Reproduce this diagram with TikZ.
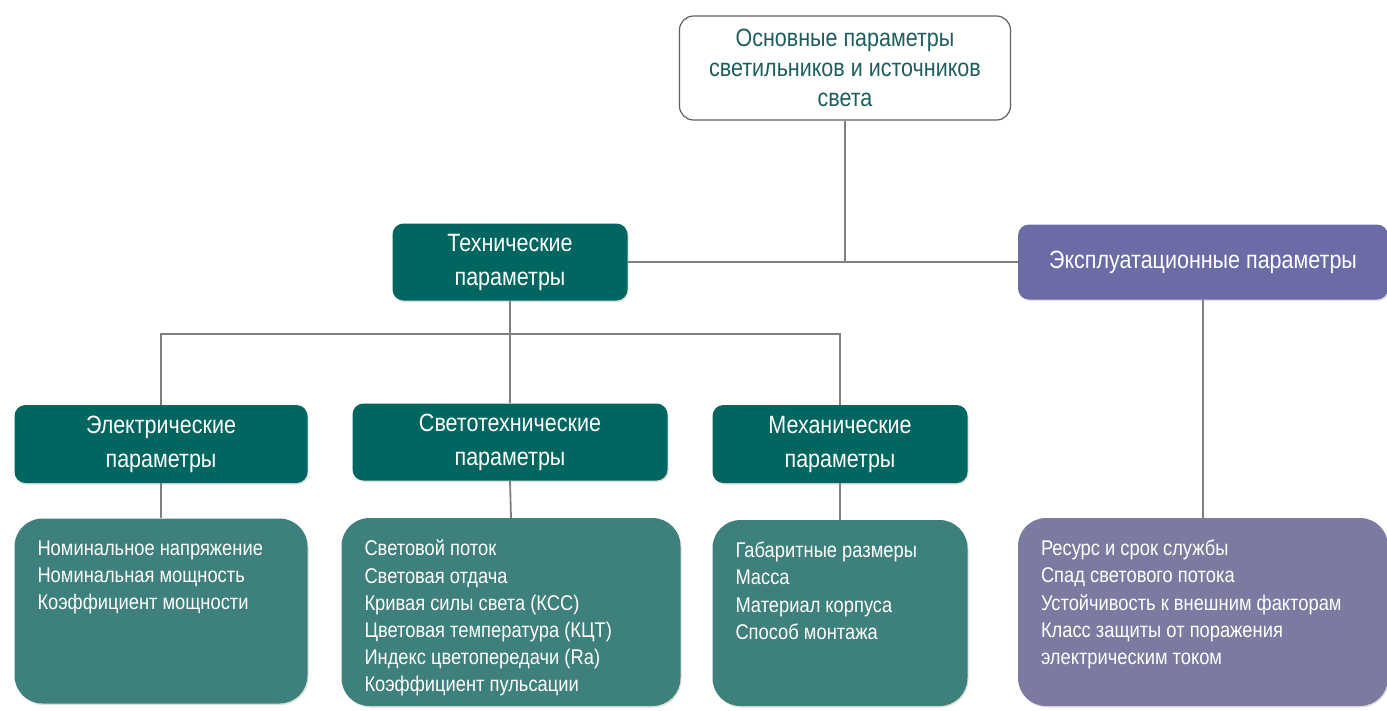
\documentclass[tikz,border=0pt]{standalone}
\usepackage{fontspec}
\setmainfont[FakeStretch=0.86]{Liberation Sans}
\usepackage{tikz}
\usetikzlibrary{positioning,calc,shadows}
\definecolor{tealdark}{HTML}{00665F}
\definecolor{tealmid}{HTML}{3E807B}
\definecolor{lilachead}{HTML}{6B6BA6}
\definecolor{lilaclist}{HTML}{7B7BA1}
\definecolor{rootink}{HTML}{1E5E5E}
\definecolor{linkgray}{HTML}{7F7F7F}

\begin{document}
\begin{tikzpicture}[x=1pt,y=-1pt,
  every node/.style={font=\fontsize{25}{30}\selectfont},
  rootbox/.style={rectangle,draw=gray!75!black,line width=1.2pt,fill=white,rounded corners=14pt,
    text=rootink,align=center,minimum width=331pt,minimum height=104pt},
  headbox/.style={rectangle,fill=tealdark,rounded corners=11pt,text=white,align=center,
    font=\fontsize{25}{34}\selectfont,drop shadow={opacity=0.25,shadow xshift=1pt,shadow yshift=-1.5pt}},
  listbox/.style={rectangle,fill=tealmid,rounded corners=28pt,text=white,inner xsep=23pt,inner ysep=22pt,
    font=\fontsize{21.3}{27.2}\selectfont,drop shadow={opacity=0.25,shadow xshift=1pt,shadow yshift=-1.5pt}},
  link/.style={draw=linkgray,line width=1.8pt}]
  \useasboundingbox (0,0) rectangle (1387,710);
  \node[rootbox] (root) at (845,68) {Основные параметры\\светильников и источников\\света};
  \node[headbox,minimum width=235pt,minimum height=77pt] (tech) at (510,262) {Технические\\параметры};
  \node[headbox,fill=lilachead,minimum width=370pt,minimum height=75pt] (expl) at (1203,262) {Эксплуатационные параметры};
  \node[headbox,minimum width=293pt,minimum height=78pt] (el) at (161,444) {Электрические\\параметры};
  \node[headbox,minimum width=315pt,minimum height=77pt] (lt) at (510,442) {Светотехнические\\параметры};
  \node[headbox,minimum width=255pt,minimum height=78pt] (mech) at (840,444) {Механические\\параметры};
  \node[listbox] (elitems) at (161,611) {\parbox[t][141pt][t]{247pt}{Номинальное напряжение\\Номинальная мощность\\Коэффициент мощности}};
  \node[listbox] (ltitems) at (511,612) {\parbox[t][144pt][t]{293pt}{Световой поток\\Световая отдача\\Кривая силы света (КСС)\\Цветовая температура (КЦТ)\\Индекс цветопередачи (Ra)\\Коэффициент пульсации}};
  \node[listbox] (mechitems) at (840,613) {\parbox[t][142pt][t]{209pt}{Габаритные размеры\\Масса\\Материал корпуса\\Способ монтажа}};
  \node[listbox,fill=lilaclist] (explitems) at (1203,612) {\parbox[t][144pt][t]{324pt}{Ресурс и срок службы\\Спад светового потока\\Устойчивость к внешним факторам\\Класс защиты от поражения\\электрическим током}};
  \coordinate (bus) at (0,334);
  \draw[link] (root.south) -- (root.south |- tech.east);
  \draw[link] (tech.east) -- (expl.west);
  \draw[link] (tech.south) -- (lt.north);
  \draw[link] (el.north) |- (mech.north |- bus) -- (mech.north);
  \draw[link] (el.south) -- (elitems.north);
  \draw[link] (lt.south) -- (ltitems.north);
  \draw[link] (mech.south) -- (mechitems.north);
  \draw[link] (expl.south) -- (explitems.north);
\end{tikzpicture}
\end{document}
